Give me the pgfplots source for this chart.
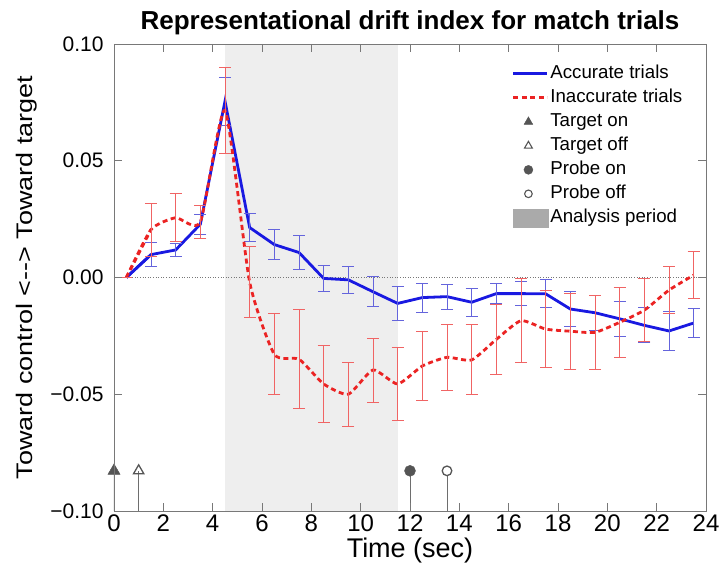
\documentclass[border=0pt]{standalone}
\usepackage{pgfplots}
\usepackage{pgfplotstable}
\pgfplotsset{compat=1.18}
\usepackage{fontspec}
\setmainfont{Liberation Sans}

\definecolor{accblue}{RGB}{25,25,225}
\definecolor{inaccred}{RGB}{235,35,35}
\definecolor{errblue}{RGB}{100,100,220}
\definecolor{errred}{RGB}{240,100,100}
\definecolor{framegray}{RGB}{120,120,120}
\definecolor{markgray}{RGB}{85,85,85}
\definecolor{stemgray}{RGB}{110,110,110}
\definecolor{shade}{RGB}{238,238,238}
\definecolor{patchgray}{RGB}{170,170,170}

% time (sec), drift index, standard error
\pgfplotstableread{
x    y        e
0.5   0.0000  0.0000
1.5   0.0098  0.0052
2.5   0.0118  0.0028
3.5   0.0228  0.0044
4.5   0.0755  0.0102
5.5   0.0214  0.0060
6.5   0.0141  0.0063
7.5   0.0107  0.0072
8.5  -0.0004  0.0056
9.5  -0.0010  0.0058
10.5 -0.0061  0.0064
11.5 -0.0111  0.0074
12.5 -0.0086  0.0062
13.5 -0.0082  0.0054
14.5 -0.0106  0.0060
15.5 -0.0069  0.0042
16.5 -0.0069  0.0050
17.5 -0.0070  0.0060
18.5 -0.0135  0.0075
19.5 -0.0151  0.0075
20.5 -0.0177  0.0075
21.5 -0.0205  0.0075
22.5 -0.0229  0.0082
23.5 -0.0195  0.0063
}\accurate

\pgfplotstableread{
x    y        e
0.5   0.0000  0.0000
1.5   0.0205  0.0114
2.5   0.0256  0.0103
3.5   0.0238  0.0070
4.5   0.0715  0.0185
5.5  -0.0020  0.0152
6.5  -0.0329  0.0173
7.5  -0.0350  0.0212
8.5  -0.0456  0.0164
9.5  -0.0500  0.0137
10.5 -0.0396  0.0137
11.5 -0.0456  0.0158
12.5 -0.0379  0.0147
13.5 -0.0342  0.0142
14.5 -0.0353  0.0150
15.5 -0.0265  0.0150
16.5 -0.0185  0.0180
17.5 -0.0221  0.0164
18.5 -0.0230  0.0162
19.5 -0.0235  0.0157
20.5 -0.0192  0.0150
21.5 -0.0140  0.0136
22.5 -0.0054  0.0102
23.5  0.0010  0.0100
}\inaccurate

\begin{document}
\begin{tikzpicture}
\begin{axis}[
  width=592pt, height=467pt, scale only axis,
  xmin=0, xmax=24, ymin=-0.1, ymax=0.1,
  axis on top,
  clip mode=individual,
  xtick={0,2,...,24},
  xticklabels={0,2,4,6,8,10,12,14,16,18,20,22,24},
  ytick={-0.1,-0.05,0,0.05,0.1},
  yticklabels={−0.10,−0.05,0.00,0.05,0.10},
  tick align=inside,
  major tick length=8pt,
  axis line style={framegray, line width=0.8pt},
  tick style={framegray, line width=0.8pt},
  xticklabel style={font=\fontsize{24}{28}\selectfont},
  yticklabel style={font=\fontsize{21}{25}\selectfont, xshift=-7pt},
  xlabel={Time (sec)},
  xlabel style={font=\fontsize{27}{30}\selectfont},
  ylabel={\scalebox{1.2}[1]{Toward control <-{}-{}> Toward target}},
  ylabel style={font=\fontsize{22.5}{26}\selectfont},
  ylabel shift=6pt,
  title={Representational drift index for match trials},
  title style={font=\bfseries\fontsize{26}{29}\selectfont},
  legend image code/.code={\draw[#1] (0pt,0pt) -- (34pt,0pt);},
  legend cell align=left,
  legend style={draw=none, fill=none, inner sep=0pt,
    at={(rel axis cs:0.672,0.959)}, anchor=north west,
    font=\fontsize{18.7}{20}\selectfont,
    row sep=3pt,
    nodes={inner sep=1.5pt, text height=14pt, text depth=4pt}},
]

% analysis period
\addplot[fill=shade, draw=none, forget plot]
  coordinates {(4.5,-0.1) (4.5,0.1) (11.5,0.1) (11.5,-0.1)} -- cycle;

% zero reference
\addplot[framegray, line width=0.6pt, dotted, forget plot]
  coordinates {(0,0) (24,0)};

% first segment of each series (no error bar at t = 0.5)
\addplot[accblue, line width=2.8pt, forget plot]
  coordinates {(0.5,0) (1.5,0.0098)};
\addplot[inaccred, line width=2.8pt, forget plot, dash pattern=on 5pt off 3.5pt]
  coordinates {(0.5,0) (1.5,0.0205)};

% mean drift index with standard error bars
\addplot[accblue, line width=2.8pt, mark=none,
  error bars/.cd, y dir=both, y explicit,
  error bar style={errblue, line width=0.9pt, solid},
  error mark options={rotate=90, errblue, mark size=6pt, line width=0.9pt, solid}]
  table[x=x, y=y, y error=e, skip first n=1] {\accurate};
\addlegendentry{Accurate trials}
\addplot[inaccred, line width=2.8pt, mark=none, smooth, tension=0.35,
  dash pattern=on 5pt off 3.5pt,
  error bars/.cd, y dir=both, y explicit,
  error bar style={errred, line width=0.9pt, solid},
  error mark options={rotate=90, errred, mark size=6pt, line width=0.9pt, solid}]
  table[x=x, y=y, y error=e, skip first n=1] {\inaccurate};
\addlegendentry{Inaccurate trials}

% task events
\addplot[stemgray, line width=1pt, forget plot] coordinates {(0,-0.1) (0,-0.0828)};
\addplot[stemgray, line width=1pt, forget plot] coordinates {(1,-0.1) (1,-0.0828)};
\addplot[stemgray, line width=1pt, forget plot] coordinates {(12,-0.1) (12,-0.0828)};
\addplot[stemgray, line width=1pt, forget plot] coordinates {(13.5,-0.1) (13.5,-0.0828)};
\addplot[only marks, mark=triangle*, mark size=7pt, markgray, forget plot]
  coordinates {(0,-0.0828)};
\addplot[only marks, mark=triangle, mark size=6pt, forget plot,
  mark options={draw=markgray, fill=white, line width=1.3pt}]
  coordinates {(1,-0.0828)};
\addplot[only marks, mark=*, mark size=5.5pt, markgray, forget plot]
  coordinates {(12,-0.0828)};
\addplot[only marks, mark=*, mark size=4.8pt, forget plot,
  mark options={draw=markgray, fill=white, line width=1.3pt}]
  coordinates {(13.5,-0.0828)};

\addlegendimage{legend image code/.code={
  \draw[markgray, fill=markgray, mark=triangle*, mark size=5pt] plot coordinates {(15pt,0pt)};}}
\addlegendentry{Target on}
\addlegendimage{legend image code/.code={
  \draw[markgray, mark=triangle, mark size=4.5pt, mark options={line width=1.1pt, fill=white}] plot coordinates {(15pt,0pt)};}}
\addlegendentry{Target off}
\addlegendimage{legend image code/.code={
  \draw[markgray, fill=markgray, mark=*, mark size=4.5pt] plot coordinates {(15pt,0pt)};}}
\addlegendentry{Probe on}
\addlegendimage{legend image code/.code={
  \draw[markgray, mark=*, mark size=3.8pt, mark options={line width=1.1pt, fill=white}] plot coordinates {(15pt,0pt)};}}
\addlegendentry{Probe off}
\addlegendimage{legend image code/.code={
  \fill[patchgray] (0pt,-9pt) rectangle (35pt,9pt);}}
\addlegendentry{Analysis period}
\end{axis}
\pgfresetboundingbox
\path[use as bounding box]
  ([shift={(-114pt,-58pt)}]current axis.south west)
  rectangle ([shift={(13pt,44pt)}]current axis.north east);
\end{tikzpicture}
\end{document}
